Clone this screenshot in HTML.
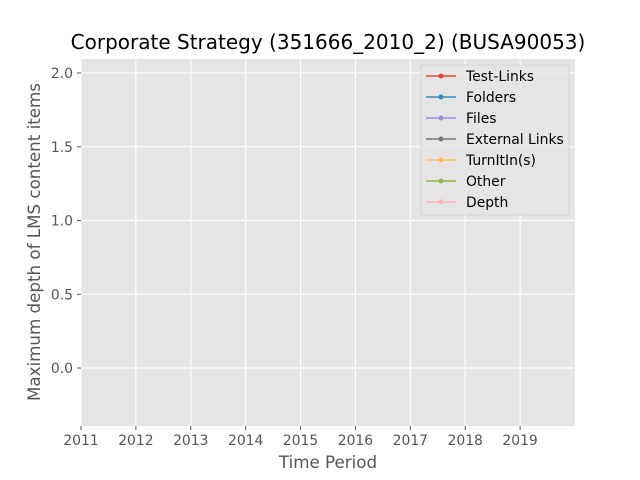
<!DOCTYPE html>
<html><head><meta charset="utf-8"><style>
body{margin:0;background:#fff;}
svg{display:block;font-family:"DejaVu Sans","Liberation Sans",sans-serif;}
</style></head><body>
<svg id="chart" width="640" height="480">
<rect x="0" y="0" width="640" height="480" fill="#fff"/>
<rect x="81" y="59" width="494" height="367" fill="#E5E5E5"/>
<g id="grid"></g>
<g id="ticks"></g>
<g id="series"></g>
<text x="328" y="49" font-size="20" text-anchor="middle" fill="#000">Corporate Strategy (351666_2010_2) (BUSA90053)</text>
<text x="328" y="468" font-size="16.7" text-anchor="middle" fill="#555">Time Period</text>
<text transform="translate(40,242) rotate(-90)" font-size="16.7" text-anchor="middle" fill="#555">Maximum depth of LMS content items</text>
<g id="legend">
<rect x="421" y="65" width="148" height="150" fill="#E5E5E5" stroke="#ccc" stroke-width="0.8" opacity="0.8"/>
</g>
</svg>
<script>
const years = [2011,2012,2013,2014,2015,2016,2017,2018,2019];
const yTicks = [0.0,0.5,1.0,1.5,2.0];
const yTickLabels = ["0.0","0.5","1.0","1.5","2.0"];
const seriesNames = ["Test-Links","Folders","Files","External Links","TurnItIn(s)","Other","Depth"];
const seriesColors = ["#E24A33","#348ABD","#988ED5","#777777","#FBC15E","#8EBA42","#FFB5B8"];
const testLinks = [];
const folders = [];
const files = [];
const externalLinks = [];
const turnitins = [];
const other = [];
const depth = [];
const allSeries = [testLinks,folders,files,externalLinks,turnitins,other,depth];

const NS="http://www.w3.org/2000/svg";
const L=81,R=575,T=59,B=426, xMin=2011,xMax=2020, yMin=-0.393,yMax=2.095;
function xs(v){return L+(v-xMin)/(xMax-xMin)*(R-L);}
function ys(v){return B-(v-yMin)/(yMax-yMin)*(B-T);}
function mk(tag,attrs,parent){const e=document.createElementNS(NS,tag);for(const k in attrs)e.setAttribute(k,attrs[k]);parent.appendChild(e);return e;}
const grid=document.getElementById('grid'),ticks=document.getElementById('ticks'),ser=document.getElementById('series'),leg=document.getElementById('legend');
years.forEach(y=>{
  const x=xs(y);
  const g=mk('line',{x1:x,x2:x,y1:T,y2:B,stroke:'#fff','stroke-width':1},grid);
  
  
  mk('line',{x1:x,x2:x,y1:B,y2:B+4,stroke:'#555'},ticks);
  const t=mk('text',{x:x,y:B+19,'font-size':13.9,'text-anchor':'middle',fill:'#555'},ticks);
  t.textContent=y;
  
  
});
yTicks.forEach((v,i)=>{
  const y=ys(v);
  const g=mk('line',{x1:L,x2:R,y1:y,y2:y,stroke:'#fff','stroke-width':1},grid);
  
  
  mk('line',{x1:L-4,x2:L,y1:y,y2:y,stroke:'#555'},ticks);
  const t=mk('text',{x:L-8,y:y+5,'font-size':13.9,'text-anchor':'end',fill:'#555'},ticks);
  t.textContent=yTickLabels[i];
  
  
});
allSeries.forEach((s,i)=>{
  if(!s.length)return;
  const pts=s.map((v,j)=>xs(years[j])+','+ys(v)).join(' ');
  const p=mk('polyline',{points:pts,fill:'none',stroke:seriesColors[i],'stroke-width':1.5},ser);
  
  
  s.forEach((v,j)=>mk('circle',{cx:xs(years[j]),cy:ys(v),r:2.5,fill:seriesColors[i]},ser));
});
seriesNames.forEach((n,i)=>{
  const y=76+i*21;
  const g=mk('g',{},leg);
  
  
  mk('line',{x1:426,x2:456,y1:y,y2:y,stroke:seriesColors[i],'stroke-width':1.5},g);
  mk('circle',{cx:441,cy:y,r:2.5,fill:seriesColors[i]},g);
  const t=mk('text',{x:466,y:y+5,'font-size':13.9,fill:'#000'},g);
  t.textContent=n;
});
</script>
</body></html>
